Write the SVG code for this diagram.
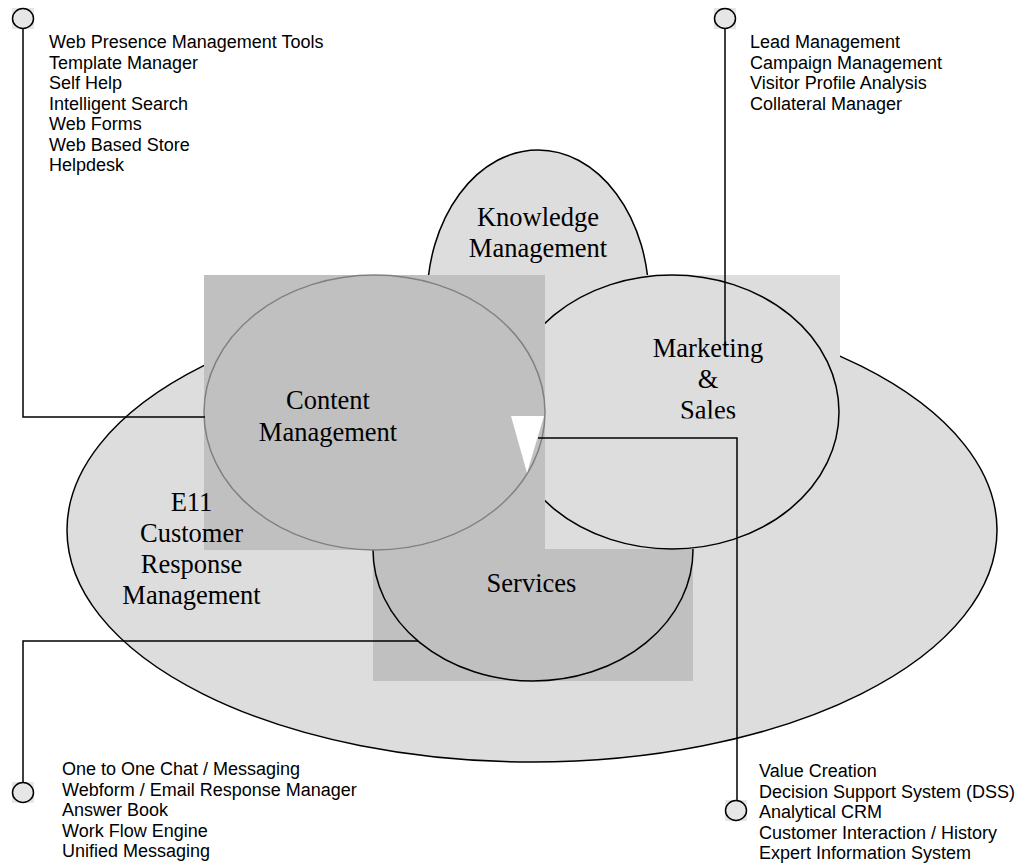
<svg xmlns="http://www.w3.org/2000/svg" width="1019" height="863" viewBox="0 0 1019 863">
<style>
.lt{fill:#dddddd;stroke:#000;stroke-width:1.5}
.dk{fill:#c0c0c0}
.lbl{font-family:"Liberation Serif","Times New Roman",serif;font-size:26.5px;fill:#000;text-anchor:middle}
.lst{font-family:"Liberation Sans",Arial,sans-serif;font-size:18px;fill:#000}
.ln{fill:none;stroke:#000;stroke-width:1.5}
.dot{fill:#e6e6e6;stroke:#000;stroke-width:1.5}
</style>
<defs>
<clipPath id="salesClip"><rect x="600" y="300" width="220" height="118.5"/></clipPath>
</defs>
<rect width="1019" height="863" fill="#fff"/>
<g id="crm">
<ellipse class="lt" cx="532" cy="530" rx="465" ry="232"/>
</g>
<g id="knowledge">
<ellipse class="lt" cx="538" cy="300" rx="111" ry="150"/>
</g>
<g id="services">
<rect class="dk" x="373" y="419" width="320" height="262"/>
<ellipse class="dk" cx="533" cy="550" rx="160" ry="131" stroke="#000" stroke-width="1.5"/>
</g>
<g id="marketing">
<rect x="545" y="275" width="295" height="274" fill="#dddddd"/>
<ellipse class="lt" cx="672" cy="412" rx="167" ry="137"/>
</g>
<g id="content">
<rect class="dk" x="204" y="275" width="341" height="275"/>
<ellipse class="dk" cx="374.5" cy="412.5" rx="170.5" ry="137.5" stroke="#808080" stroke-width="1.5"/>
<polygon points="511,416 544,416 527,473" fill="#fff"/>
</g>
<g id="connectors">
<rect x="12" y="8" width="22" height="21" fill="#e6e6e6"/>
<ellipse class="dot" cx="23" cy="18.5" rx="10.5" ry="10"/>
<polyline class="ln" points="23,28.5 23,417 205,417"/>
<rect x="714" y="8" width="22" height="21" fill="#e6e6e6"/>
<ellipse class="dot" cx="725" cy="18.5" rx="10.5" ry="10"/>
<polyline class="ln" points="725,28.5 725,348"/>
<rect x="12" y="782" width="22" height="21" fill="#e6e6e6"/>
<ellipse class="dot" cx="23" cy="792.5" rx="10.5" ry="10"/>
<polyline class="ln" points="418,641 23,641 23,782.5"/>
<rect x="725" y="800" width="22" height="21" fill="#e6e6e6"/>
<ellipse class="dot" cx="736" cy="810.5" rx="10.5" ry="10"/>
<polyline class="ln" points="538,438 737,438 737,800.5"/>
</g>
<g id="labels">
<text class="lbl" x="538" y="226">Knowledge</text>
<text class="lbl" x="538" y="257">Management</text>
<text class="lbl" x="328" y="409">Content</text>
<text class="lbl" x="328" y="441">Management</text>
<text class="lbl" x="708" y="357">Marketing</text>
<text class="lbl" x="708" y="388">&amp;</text>
<text class="lbl" x="708" y="419" clip-path="url(#salesClip)">Sales</text>
<text class="lbl" x="191.5" y="511">E11</text>
<text class="lbl" x="191.5" y="542">Customer</text>
<text class="lbl" x="191.5" y="573">Response</text>
<text class="lbl" x="191.5" y="604">Management</text>
<text class="lbl" x="531.5" y="592">Services</text>
</g>
<g id="list-content" class="lst">
<text x="49" y="48">Web Presence Management Tools</text>
<text x="49" y="68.5">Template Manager</text>
<text x="49" y="89">Self Help</text>
<text x="49" y="109.5">Intelligent Search</text>
<text x="49" y="130">Web Forms</text>
<text x="49" y="150.5">Web Based Store</text>
<text x="49" y="171">Helpdesk</text>
</g>
<g id="list-marketing" class="lst">
<text x="750" y="48">Lead Management</text>
<text x="750" y="68.5">Campaign Management</text>
<text x="750" y="89">Visitor Profile Analysis</text>
<text x="750" y="109.5">Collateral Manager</text>
</g>
<g id="list-services" class="lst">
<text x="62" y="775">One to One Chat / Messaging</text>
<text x="62" y="795.5">Webform / Email Response Manager</text>
<text x="62" y="816">Answer Book</text>
<text x="62" y="836.5">Work Flow Engine</text>
<text x="62" y="857">Unified Messaging</text>
</g>
<g id="list-analytics" class="lst">
<text x="759" y="777">Value Creation</text>
<text x="759" y="797.5">Decision Support System (DSS)</text>
<text x="759" y="818">Analytical CRM</text>
<text x="759" y="838.5">Customer Interaction / History</text>
<text x="759" y="859">Expert Information System</text>
</g>
</svg>
